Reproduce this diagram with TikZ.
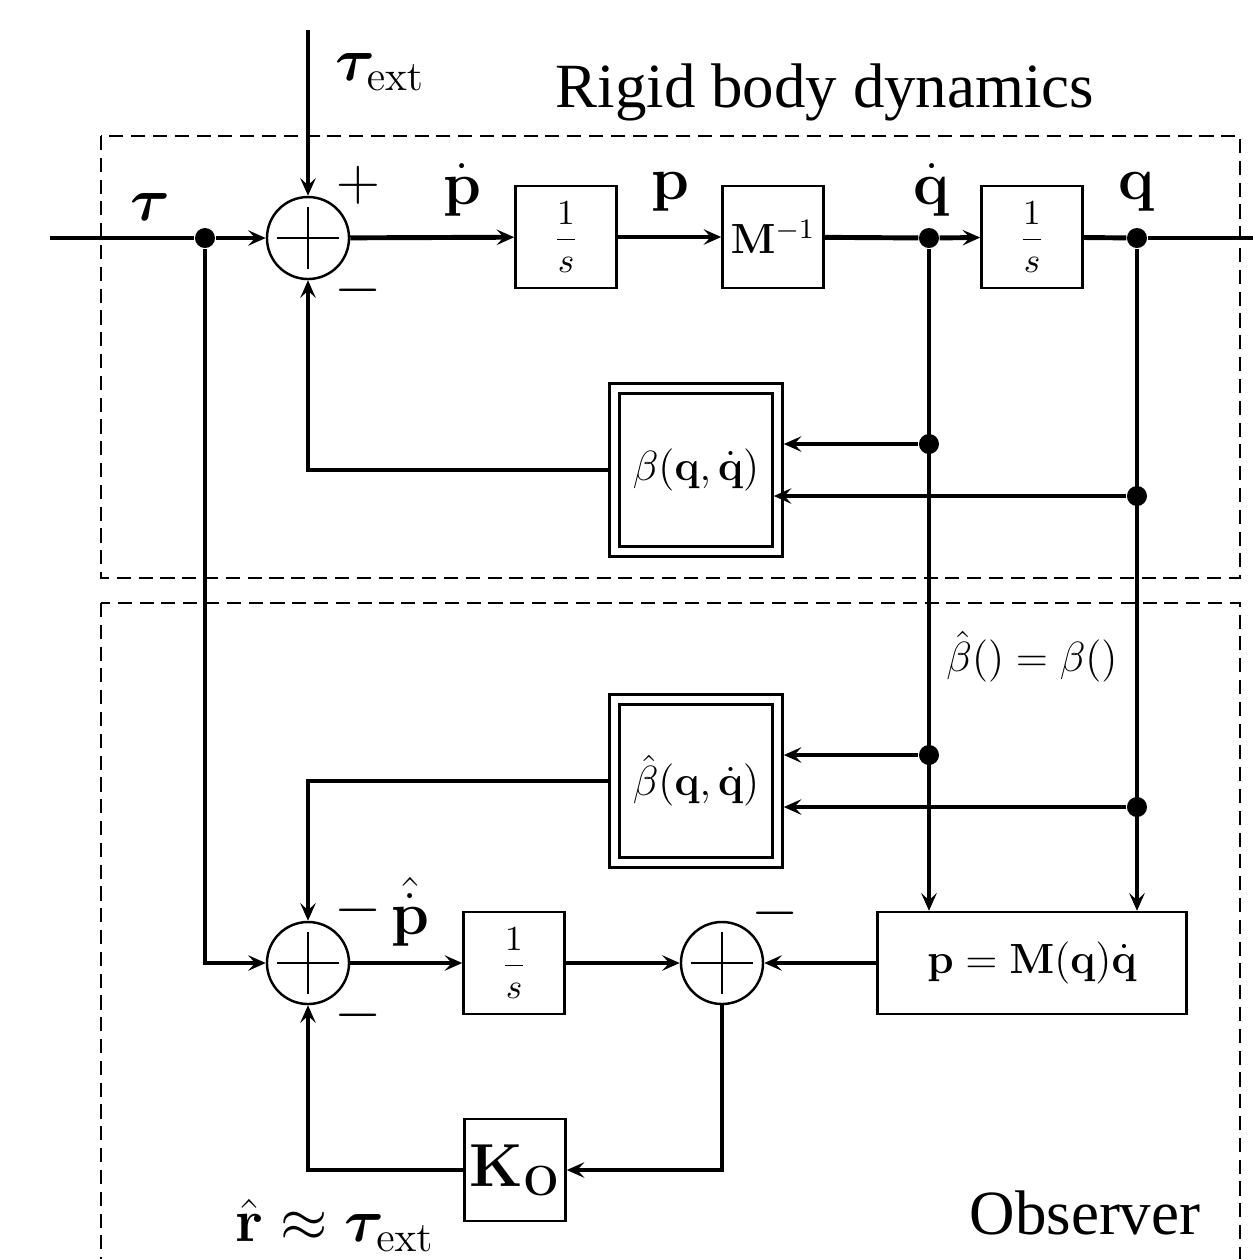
\documentclass[tikz,border=0pt]{standalone}
\usepackage{amsmath,amssymb,bm}
\usepackage[no-math]{fontspec}
\setmainfont{Liberation Serif}
\usetikzlibrary{arrows.meta,positioning,calc}

\begin{document}
\begin{tikzpicture}[
  x=0.01cm, y=-0.01cm,
  blockbox/.style={draw, line width=0.7pt, minimum width=1.01cm, minimum height=1.02cm, inner sep=0pt, font=\fontsize{12}{14}\selectfont},
  intbox/.style={blockbox, font=\fontsize{10}{12}\selectfont},
  sumnode/.style={circle, draw, line width=0.7pt, minimum size=0.82cm, inner sep=0pt,
    path picture={
      \draw[line width=0.6pt] ([xshift=-0.31cm]path picture bounding box.center) -- ([xshift=0.31cm]path picture bounding box.center);
      \draw[line width=0.6pt] ([yshift=-0.31cm]path picture bounding box.center) -- ([yshift=0.31cm]path picture bounding box.center);}},
  sig/.style={line width=1.4pt},
  arr/.style={sig, -{Stealth[length=5pt, width=4.4pt, inset=2pt]}},
  junction/.style={circle, fill, inner sep=0pt, minimum size=0.2cm},
  lbl/.style={inner sep=1pt, font=\fontsize{18}{20}\selectfont},
  sgn/.style={inner sep=0pt, font=\fontsize{18}{20}\selectfont},
  groupbox/.style={line width=0.6pt, dash pattern=on 4pt off 2.2pt},
]
  \useasboundingbox (0,0) rectangle (1253,1259);

  % Groups
  \draw[groupbox] (101,136) rectangle (1240,578);
  \draw[groupbox] (101,603) rectangle (1240,1300);
  \node[font=\fontsize{17.9}{21}\selectfont] (rbd) at (825,92) {Rigid body dynamics};
  \node[font=\fontsize{17.9}{21}\selectfont] (obs) at (1085,1213) {Observer};

  % Plant row
  \coordinate (in) at (50,238);
  \coordinate (out) at (1253,238);
  \coordinate (ext) at (308,30);
  \node[junction] (jtau) at (205,238) {};
  \node[sumnode] (sum1) at (308,238) {};
  \node[intbox] (int1) at (566,237) {$\dfrac{1}{s}$};
  \node[blockbox] (minv) at (773,237) {$\mathbf{M}^{-1}$};
  \node[junction] (jqd) at (929,238) {};
  \node[intbox] (int2) at (1032,237) {$\dfrac{1}{s}$};
  \node[junction] (jq) at (1137,238) {};

  % Beta blocks
  \node[blockbox, minimum width=1.73cm, minimum height=1.73cm] (beta) at (696,470) {};
  \node[blockbox, minimum width=1.53cm, minimum height=1.53cm] (betain) at (696,470) {$\beta(\mathbf{q},\dot{\mathbf{q}})$};
  \node[junction] (jqd1) at (929,444) {};
  \node[junction] (jq1) at (1137,496) {};
  \node[blockbox, minimum width=1.73cm, minimum height=1.73cm] (betahat) at (696,781) {};
  \node[blockbox, minimum width=1.53cm, minimum height=1.53cm] (betahatin) at (696,781) {$\hat{\beta}(\mathbf{q},\dot{\mathbf{q}})$};
  \node[junction] (jqd2) at (929,755) {};
  \node[junction] (jq2) at (1137,807) {};

  % Observer row
  \node[sumnode] (sum2) at (308,963) {};
  \node[intbox] (int3) at (514,963) {$\dfrac{1}{s}$};
  \node[sumnode] (sum3) at (722,963) {};
  \node[blockbox, minimum width=3.09cm] (mom) at (1032,963) {$\mathbf{p}=\mathbf{M}(\mathbf{q})\dot{\mathbf{q}}$};
  \node[blockbox, font=\fontsize{18}{20}\selectfont] (gain) at (515,1170) {$\mathbf{K}_{\mathbf{O}}$};

  % Labels
  \node[lbl] (taulbl) at (150,207) {$\bm{\tau}$};
  \node[lbl] (extlbl) at (380,72) {$\bm{\tau}_{\mathrm{ext}}$};
  \node[lbl] (pdlbl) at (462,190) {$\dot{\mathbf{p}}$};
  \node[lbl] (plbl) at (670,192) {$\mathbf{p}$};
  \node[lbl] (qdlbl) at (932,190) {$\dot{\mathbf{q}}$};
  \node[lbl] (qlbl) at (1137,192) {$\mathbf{q}$};
  \node[lbl] (phlbl) at (410,912) {$\hat{\dot{\mathbf{p}}}$};
  \node[lbl] (rlbl) at (335,1225) {$\hat{\mathbf{r}}\approx\bm{\tau}_{\mathrm{ext}}$};
  \node[font=\fontsize{12}{14}\selectfont] (eqlbl) at (1032,657) {$\hat{\beta}()=\beta()$};
  \node[sgn] (plus1) at (358,185) {$+$};
  \node[sgn] (minus1) at (358,290) {$-$};
  \node[sgn] (minus2) at (358,910) {$-$};
  \node[sgn] (minus3) at (358,1015) {$-$};
  \node[sgn] (minus4) at (775,913) {$-$};

  % Edges, plant
  \draw[sig] (in) -- (jtau);
  \draw[arr] (jtau) -- (sum1);
  \draw[arr] (ext) -- (sum1);
  \draw[arr] (sum1) -- (int1);
  \draw[arr] (int1) -- (minv);
  \draw[sig] (minv) -- (jqd);
  \draw[arr] (jqd) -- (int2);
  \draw[sig] (int2) -- (jq);
  \draw[sig] (jq) -- (out);
  \draw[arr] (beta.west) -| (sum1.south);
  \draw[arr] (jqd1) -- (jqd1 -| beta.east);
  \draw[arr] (jq1) -- (jq1 -| betain.east);

  % Edges, observer
  \draw[arr] (jqd) -- (jqd |- mom.north);
  \draw[arr] (jq) -- (jq |- mom.north);
  \draw[arr] (jqd2) -- (jqd2 -| betahat.east);
  \draw[arr] (jq2) -- (jq2 -| betahat.east);
  \draw[arr] (jtau) |- (sum2);
  \draw[arr] (betahat.west) -| (sum2.north);
  \draw[arr] (sum2) -- (int3);
  \draw[arr] (int3) -- (sum3);
  \draw[arr] (mom) -- (sum3);
  \draw[arr] (sum3.south) |- (gain.east);
  \draw[arr] (gain.west) -| (sum2.south);
\end{tikzpicture}
\end{document}
